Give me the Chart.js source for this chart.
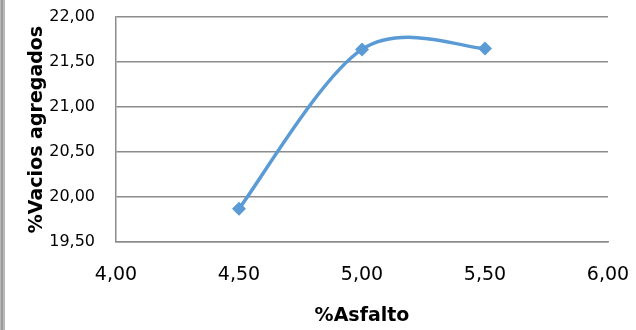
<!DOCTYPE html>
<html>
<head>
<title>Vacios agregados</title>
<style> body { margin: 0; background: white; } canvas { display: block; } </style>
</head>
<body>
<canvas id="vmaChart" width="636" height="330"></canvas>

<script src="https://cdn.jsdelivr.net/npm/chart.js@4"></script>
<script>
// % asfalto vs % vacios agregados
let asfalto = [4.5, 5.0, 5.5],
vacios = [19.87, 21.64, 21.65],
xTicks = [4.0, 4.5, 5.0, 5.5, 6.0],
yTicks = [19.5, 20.0, 20.5, 21.0, 21.5, 22.0];

function coma(v){ return Number(v).toFixed(2).replace('.', ','); }

// gray frame strip on the left edge
let leftFrame = {
    id: 'leftFrame',
    beforeDraw: function(chart){
        let c = chart.ctx;
        c.save();
        c.fillStyle = '#ffffff';
        c.fillRect(0, 0, chart.width, chart.height);
        c.fillStyle = '#b9b9b9';
        c.fillRect(0, 0, 5, chart.height);
        c.fillStyle = '#9b9b9b';
        c.fillRect(1, 0, 2, chart.height);
        c.restore();
    }
};

// spreadsheet style smoothing: control points at 1/6 of the neighbour span
let smooth = {
    id: 'smooth',
    beforeDatasetDraw: function(chart, args){
        let meta = args.meta, pts = meta.data, n = pts.length;
        meta.dataset.updateControlPoints(chart.chartArea, 'x');
        for (let i = 0; i < n; i++){
            let p = pts[i], a = pts[Math.max(i-1, 0)], b = pts[Math.min(i+1, n-1)];
            let dx = (b.x - a.x)/6, dy = (b.y - a.y)/6;
            p.cp1x = p.x - dx; p.cp1y = p.y - dy;
            p.cp2x = p.x + dx; p.cp2y = p.y + dy;
        }
    }
};

let ctx = document.getElementById('vmaChart').getContext('2d');
let chart = new Chart(ctx, {
    type: 'line',
    data: {
        datasets: [{
            data: asfalto.map(function(x, i){ return {x: x, y: vacios[i]}; }),
            borderColor: '#5b9bd5',
            backgroundColor: '#5b9bd5',
            borderWidth: 3.5,
            tension: 0.4,
            fill: false,
            pointStyle: 'rectRot',
            pointRadius: 7,
            pointBorderWidth: 0
        }]
    },
    options: {
        responsive: false,
        animation: false,
        devicePixelRatio: 1,
        layout: { padding: { top: 17, right: 28, left: 0, bottom: 0 } },
        plugins: { legend: { display: false }, tooltip: { enabled: false } },
        scales: {
            x: {
                type: 'linear',
                min: 4, max: 6,
                afterBuildTicks: function(s){ s.ticks = xTicks.map(function(v){ return {value: v}; }); },
                // fixed axis height, no extra side padding from the tick labels
                afterFit: function(s){ s.height = 88; s.paddingLeft = 0; s.paddingRight = 0; },
                grid: { display: false, drawTicks: false },
                border: { display: true, color: '#8c8c8c', width: 1.5 },
                ticks: {
                    padding: 22,
                    color: '#000',
                    font: { family: 'DejaVu Sans', size: 19 },
                    callback: coma
                },
                title: {
                    display: true,
                    text: '%Asfalto',
                    color: '#000',
                    font: { family: 'DejaVu Sans', size: 19, weight: 'bold' },
                    padding: { top: 0, bottom: 3 }
                }
            },
            y: {
                min: 19.5, max: 22,
                afterBuildTicks: function(s){ s.ticks = yTicks.map(function(v){ return {value: v}; }); },
                afterFit: function(s){ s.width = 116; s.paddingTop = 0; s.paddingBottom = 0; },
                grid: { color: '#8c8c8c', lineWidth: 1.5, drawTicks: false },
                border: { display: true, color: '#8c8c8c', width: 1.5 },
                ticks: {
                    padding: 21,
                    color: '#000',
                    font: { family: 'DejaVu Sans', size: 16 },
                    callback: coma
                },
                title: {
                    display: true,
                    text: '%Vacios agregados',
                    color: '#000',
                    font: { family: 'DejaVu Sans', size: 19, weight: 'bold' },
                    padding: { top: 26, bottom: 0 }
                }
            }
        }
    },
    plugins: [leftFrame, smooth]
});
</script>
</body>
</html>
